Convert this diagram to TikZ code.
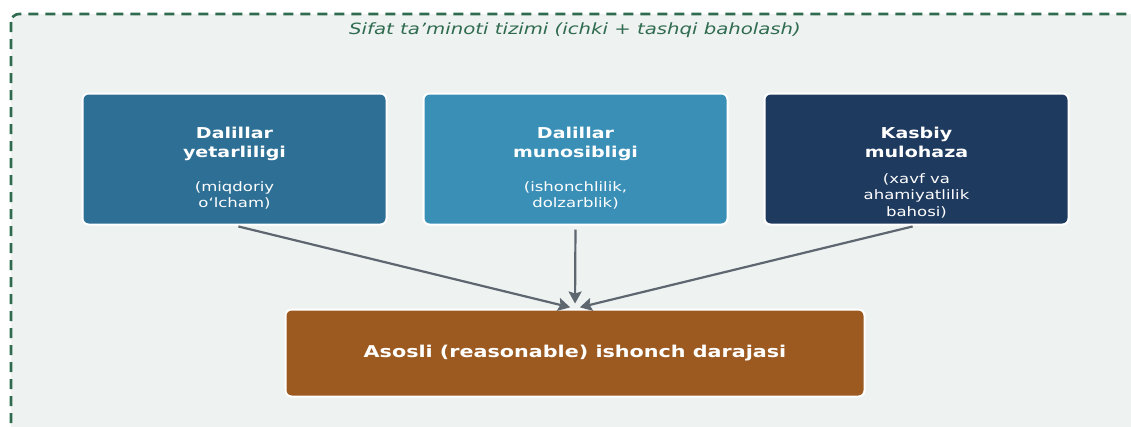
\documentclass[tikz,border=0pt]{standalone}
\usepackage{fontspec}
\setmainfont{DejaVu Sans}[FakeStretch=1.27]
\usetikzlibrary{arrows.meta, calc}
\definecolor{frameGreen}{HTML}{2F6B4F}
\definecolor{panelBg}{HTML}{EEF2F1}
\definecolor{sufBlue}{HTML}{2E6F95}
\definecolor{appBlue}{HTML}{3A8FB7}
\definecolor{judgNavy}{HTML}{1F3A5F}
\definecolor{resBrown}{HTML}{9C5A21}
\definecolor{arrowGray}{HTML}{5E6670}

\tikzset{
  qbox/.style={draw=white, line width=2pt, rounded corners=6pt},
  qhead/.style={inner sep=0pt, text=white, align=center,
                font=\fontsize{15}{19}\selectfont\bfseries},
  qsub/.style={inner sep=0pt, text=white, align=center,
               font=\fontsize{13}{16.5}\selectfont}
}

% one criterion box: name, x, colour, heading, note
\newcommand{\critbox}[5]{%
  \node[qbox, fill=#3, minimum width=304pt, minimum height=131pt] (#1) at (#2,159) {};
  \node[qhead, anchor=north] (#1h) at ($(#1.north)+(0,33)$) {#4};
  \node[qsub] (#1s) at ($(#1.center)+(0,36.5)$) {#5};
}

\begin{document}
\begin{tikzpicture}[x=1pt, y=-1pt, >={Stealth[length=12pt, width=13pt, inset=2pt]}, line width=2.2pt]

\useasboundingbox (0,0) rectangle (1131,426);
\clip (0,0) rectangle (1131,426);

% outer frame, cut off at the right and bottom
\draw[frameGreen, fill=panelBg, dash pattern=on 10pt off 7pt,
      line width=2.6pt, rounded corners=8pt] (11,14) rectangle (1150,445);

\node[text=frameGreen, font=\fontsize{15.5}{18}\selectfont\itshape]
      (title) at (575,30) {Sifat ta’minoti tizimi (ichki + tashqi baholash)};

\critbox{B1}{234.5}{sufBlue}{Dalillar\\yetarliligi}{(miqdoriy\\o‘lcham)}
\critbox{B2}{575.5}{appBlue}{Dalillar\\munosibligi}{(ishonchlilik,\\dolzarblik)}
\critbox{B3}{916.5}{judgNavy}{Kasbiy\\mulohaza}{(xavf va\\ahamiyatlilik\\bahosi)}

\node[qbox, fill=resBrown, minimum width=579pt, minimum height=87pt,
      text=white, font=\fontsize{16.3}{19}\selectfont\bfseries]
      (res) at (575,353) {Asosli (reasonable) ishonch darajasi};

\draw[->, arrowGray, shorten <=4pt, shorten >=5pt] (B1.south) -- (res.north);
\draw[->, arrowGray, shorten <=4pt, shorten >=5pt] (B2.south) -- (res.north);
\draw[->, arrowGray, shorten <=4pt, shorten >=5pt] (B3.south) -- (res.north);

\end{tikzpicture}
\end{document}
